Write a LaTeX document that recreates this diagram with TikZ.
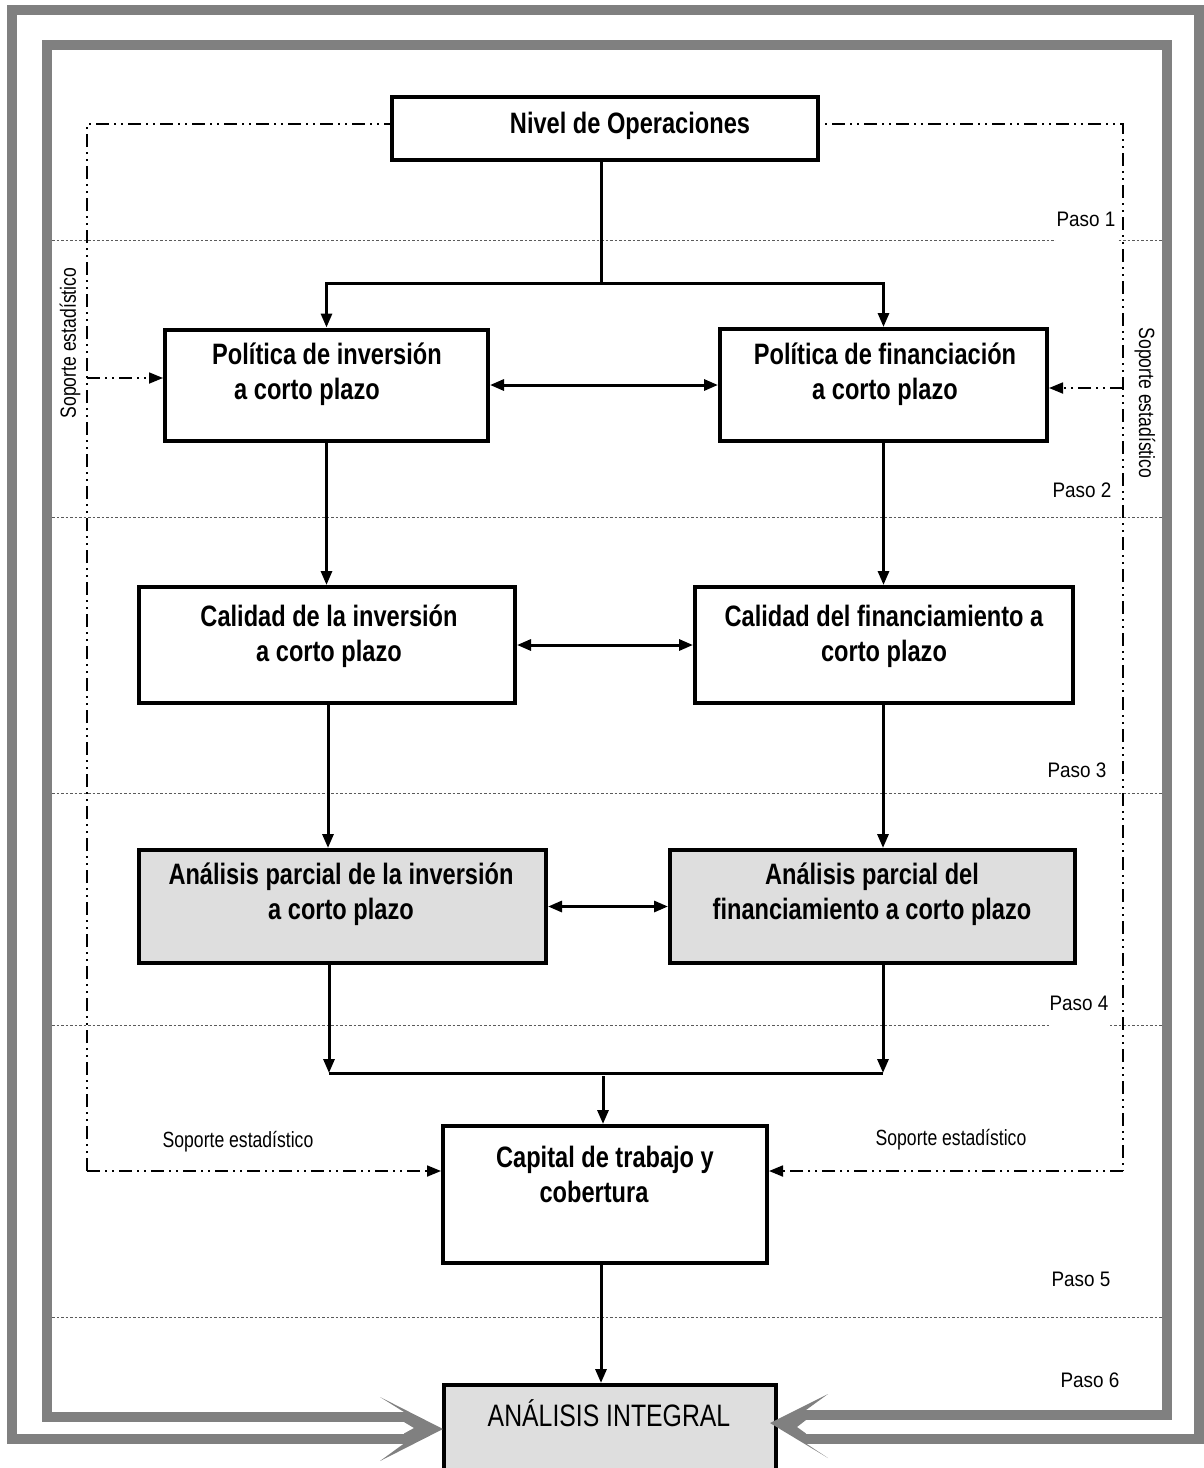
\documentclass[tikz,border=0pt]{standalone}
\usepackage{fontspec}
\setmainfont{Liberation Sans}
\newfontfamily\condfont{Liberation Sans}[FakeStretch=0.8]
\newfontfamily\semicondfont{Liberation Sans}[FakeStretch=0.9]
\usetikzlibrary{arrows.meta}
\definecolor{framegray}{RGB}{128,128,128}
\definecolor{boxgray}{RGB}{222,222,222}
\definecolor{gridgray}{RGB}{90,90,90}

\begin{document}
\begin{tikzpicture}[x=1pt,y=-1pt,
  boxw/.style={draw=black, line width=4pt, fill=white, rectangle, inner sep=0pt},
  boxg/.style={boxw, fill=boxgray},
  btext/.style={font=\condfont\bfseries\fontsize{29.5}{35}\selectfont, align=center, inner sep=0pt},
  itext/.style={font=\condfont\fontsize{31}{36}\selectfont, inner sep=0pt},
  conn/.style={draw=black, line width=3pt},
  tip/.style={-{Triangle[length=14pt,width=11pt]}},
  dtip/.style={{Triangle[length=14pt,width=11pt]}-{Triangle[length=14pt,width=11pt]}},
  dashdot/.style={draw=black, line width=1.8pt, dash pattern=on 13pt off 5pt on 2pt off 5pt on 2pt off 5pt},
  gridline/.style={draw=gridgray, line width=1pt, dash pattern=on 2.5pt off 2pt},
  frame/.style={draw=framegray, line width=10pt},
  pasolabel/.style={font=\semicondfont\fontsize{21}{25}\selectfont, fill=white, inner sep=0pt, minimum width=61pt, minimum height=46pt},
  soplabel/.style={font=\condfont\fontsize{22}{26}\selectfont, inner sep=0pt}
]
\useasboundingbox (0,0) rectangle (1204,1468);

% step separators
\foreach \yy in {240,517,793,1025,1317}
  \draw[gridline] (52,\yy) -- (1162,\yy);

% double grey frame
\draw[frame] (406,1438.5) -- (12,1438.5) -- (12,10) -- (1199,10) -- (1199,1438.5) -- (805,1438.5);
\draw[frame] (406,1417) -- (47,1417) -- (47,45) -- (1167,45) -- (1167,1415) -- (805,1415);

% statistical support frame (dash-dot-dot)
\coordinate (dBL) at (87,1171);
\coordinate (dBR) at (1123,1171);
\coordinate (dL) at (87,378);
\coordinate (dR) at (1123,388);
\draw[dashdot] (dBL) -- (87,124) -- (1123,124) -- (dBR);

% boxes
\node[boxw, minimum width=426pt, minimum height=63pt] (nivel) at (605,128.5) {};
\node[boxw, minimum width=323pt, minimum height=111pt] (polinv) at (326.5,385) {};
\node[boxw, minimum width=327pt, minimum height=112pt] (polfin) at (883.5,385) {};
\node[boxw, minimum width=376pt, minimum height=116pt] (calinv) at (327,645) {};
\node[boxw, minimum width=378pt, minimum height=116pt] (calfin) at (884,645) {};
\node[boxg, minimum width=407pt, minimum height=113pt] (anainv) at (342.5,906.5) {};
\node[boxg, minimum width=405pt, minimum height=113pt] (anafin) at (872.5,906.5) {};
\node[boxw, minimum width=324pt, minimum height=137pt] (capital) at (605,1194.5) {};
\node[boxg, minimum width=332pt, minimum height=120pt] (integral) at (610,1445) {};

% box texts
\node[btext] (nivelT) at (630,125.5) {Nivel de Operaciones};
\node[btext] (polinvT) at (327,374) {Política de inversión\\a corto plazo\hspace*{40pt}};
\node[btext] (polfinT) at (885,374) {Política de financiación\\a corto plazo};
\node[btext] (calinvT) at (329,636) {Calidad de la inversión\\a corto plazo};
\node[btext] (calfinT) at (884,636) {Calidad del financiamiento a\\corto plazo};
\node[btext] (anainvT) at (341,894.5) {Análisis parcial de la inversión\\a corto plazo};
\node[btext] (anafinT) at (872,894.5) {Análisis parcial del\\financiamiento a corto plazo};
\node[btext] (capitalT) at (605,1174) {Capital de trabajo y\\cobertura\hspace*{22pt}};
\node[itext] (integralT) at (609,1413) {ANÁLISIS INTEGRAL};

% main flow
\coordinate (jtop) at (601,283);
\draw[conn] (nivel.south -| jtop) -- (jtop);
\draw[conn, tip] (jtop) -| (polinv.north);
\draw[conn, tip] (jtop) -| (polfin.north);
\draw[conn, tip] (polinv.south) -- (polinv.south |- calinv.north);
\draw[conn, tip] (polfin.south) -- (polfin.south |- calfin.north);
\coordinate (xL) at (328,0);
\coordinate (xR) at (883,0);
\draw[conn, tip] (calinv.south -| xL) -- (xL |- anainv.north);
\draw[conn, tip] (calfin.south -| xR) -- (xR |- anafin.north);
\coordinate (jL) at (329,1073);
\coordinate (jR) at (883,1073);
\coordinate (jM) at (603,1076);
\draw[conn, tip] (anainv.south -| jL) -- (jL);
\draw[conn, tip] (anafin.south -| jR) -- (jR);
\draw[conn] (jL) -- (jR);
\draw[conn, tip] (jM) -- (jM |- capital.north);
\draw[conn, tip] (capital.south -| jtop) -- (jtop |- integral.north);

% horizontal links between paired boxes
\draw[conn, dtip] (polinv.east) -- (polinv.east -| polfin.west);
\draw[conn, dtip] (calinv.east) -- (calinv.east -| calfin.west);
\draw[conn, dtip] (anainv.east) -- (anainv.east -| anafin.west);

% statistical support inputs
\draw[dashdot, tip] (dL) -- (dL -| polinv.west);
\draw[dashdot, tip] (dR) -- (dR -| polfin.east);
\draw[dashdot, tip] (dBL) -- (dBL -| capital.west);
\draw[dashdot, tip] (dBR) -- (dBR -| capital.east);

% step labels
\node[pasolabel] (paso1) at (1086,219) {Paso 1};
\node[pasolabel] (paso2) at (1082,490) {Paso 2};
\node[pasolabel] (paso3) at (1077,770) {Paso 3};
\node[pasolabel] (paso4) at (1079,1003) {Paso 4};
\node[pasolabel] (paso5) at (1081,1279) {Paso 5};
\node[pasolabel] (paso6) at (1090,1380) {Paso 6};

% support labels
\node[soplabel, rotate=90] (sopL) at (70,343) {Soporte estadístico};
\node[soplabel, rotate=-90] (sopR) at (1145,403) {Soporte estadístico};
\node[soplabel] (sopBL) at (238,1142) {Soporte estadístico};
\node[soplabel] (sopBR) at (951,1140) {Soporte estadístico};

% double-shaft arrow heads of the frame
\fill[framegray] (380,1397) -- (443,1429) -- (380,1461) -- (404,1443.5) -- (404,1433.5)
  -- (414,1428) -- (404,1422) -- (404,1412) -- cycle;
\fill[framegray] (828,1394) -- (770,1423) -- (828,1458) -- (806,1443.5) -- (806,1433.5)
  -- (797,1427) -- (806,1420) -- (806,1410) -- cycle;
\end{tikzpicture}
\end{document}
